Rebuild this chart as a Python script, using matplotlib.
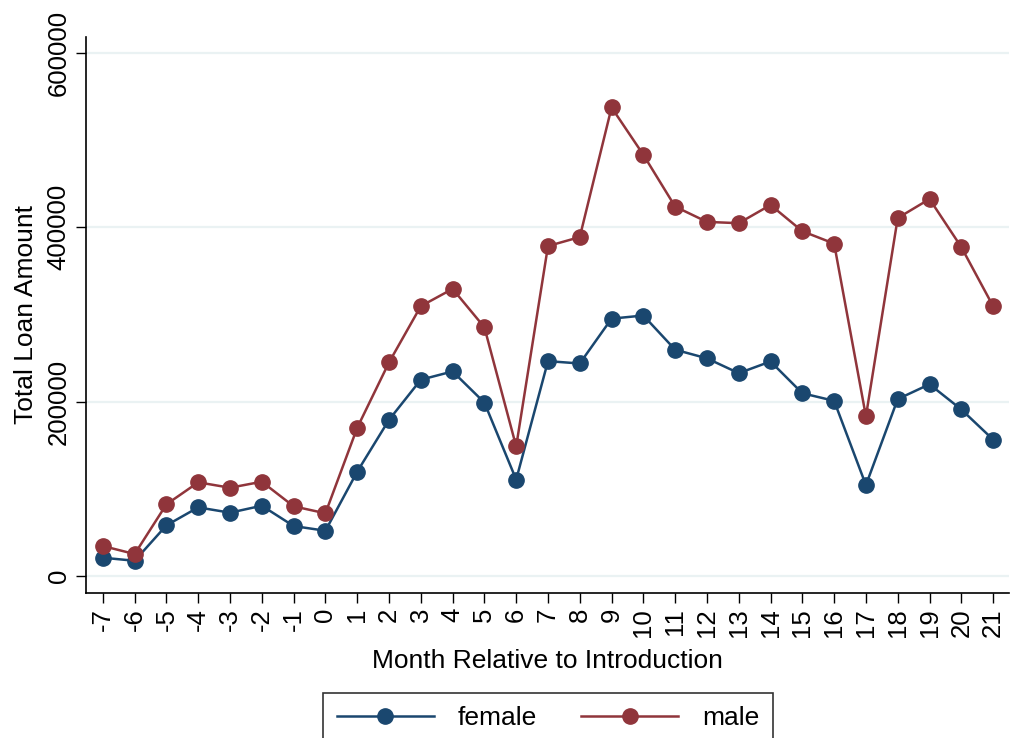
import matplotlib
matplotlib.use("Agg")
import matplotlib.pyplot as plt

plt.rcParams['font.family'] = ['Liberation Sans', 'DejaVu Sans']

months = list(range(-7, 22))
female = [21000, 17500, 58100, 78700, 72600, 80600, 57300, 51900,
          119600, 179000, 225000, 234500, 198800, 110500, 246300, 243600,
          295000, 298600, 259400, 249500, 232500, 245900, 209500, 200800,
          104200, 202800, 219800, 190900, 156400]
male = [34400, 25200, 82200, 107400, 101200, 108100, 79900, 71900,
        169900, 244800, 309300, 329100, 285100, 148500, 378200, 388500,
        537000, 482800, 423400, 405900, 404400, 425300, 395200, 381000,
        183000, 410300, 432100, 377000, 309300]
y_ticks = [0, 200000, 400000, 600000]

W, H = 1011, 738
fig = plt.figure(figsize=(W / 100, H / 100), dpi=100)
ax = fig.add_axes([86 / W, (H - 592.7) / H, (1009 - 86) / W, (592.7 - 37) / H])

navy = "#1a476f"
maroon = "#90353b"
ax.plot(months, female, color=navy, lw=1.8, marker="o", ms=11, label="female")
ax.plot(months, male, color=maroon, lw=1.8, marker="o", ms=11, label="male")

ax.set_xlim(-7.53, 21.5)
ax.set_ylim(-19100, 617800)

ax.set_yticks(y_ticks)
ax.set_yticklabels([str(v) for v in y_ticks], rotation=90, va="center", fontsize=18.5)
ax.set_xticks(months)
ax.set_xticklabels([str(m) for m in months], rotation=90, fontsize=18.5)
ax.tick_params(direction="out", length=7, width=1, colors="black")
ax.tick_params(axis="x", pad=4)
ax.tick_params(axis="y", pad=4)

ax.grid(axis="y", color="#eaf2f3", lw=1.6)
ax.set_axisbelow(True)
for side in ("top", "right"):
    ax.spines[side].set_visible(False)
for side in ("left", "bottom"):
    ax.spines[side].set_linewidth(1.2)

ax.set_xlabel("Month Relative to Introduction", fontsize=19, labelpad=9)
ax.set_ylabel("Total Loan Amount", fontsize=19, labelpad=6)

leg = fig.legend(loc="upper center", bbox_to_anchor=(548 / W, 1 - 692.7 / H),
                 borderaxespad=0, ncol=2, fontsize=19, frameon=True,
                 fancybox=False, edgecolor="black", handlelength=3.7,
                 handletextpad=0.9, columnspacing=1.65, borderpad=0.5)
leg.get_frame().set_linewidth(1.2)

fig.savefig("out.png", dpi=100, facecolor="white")
